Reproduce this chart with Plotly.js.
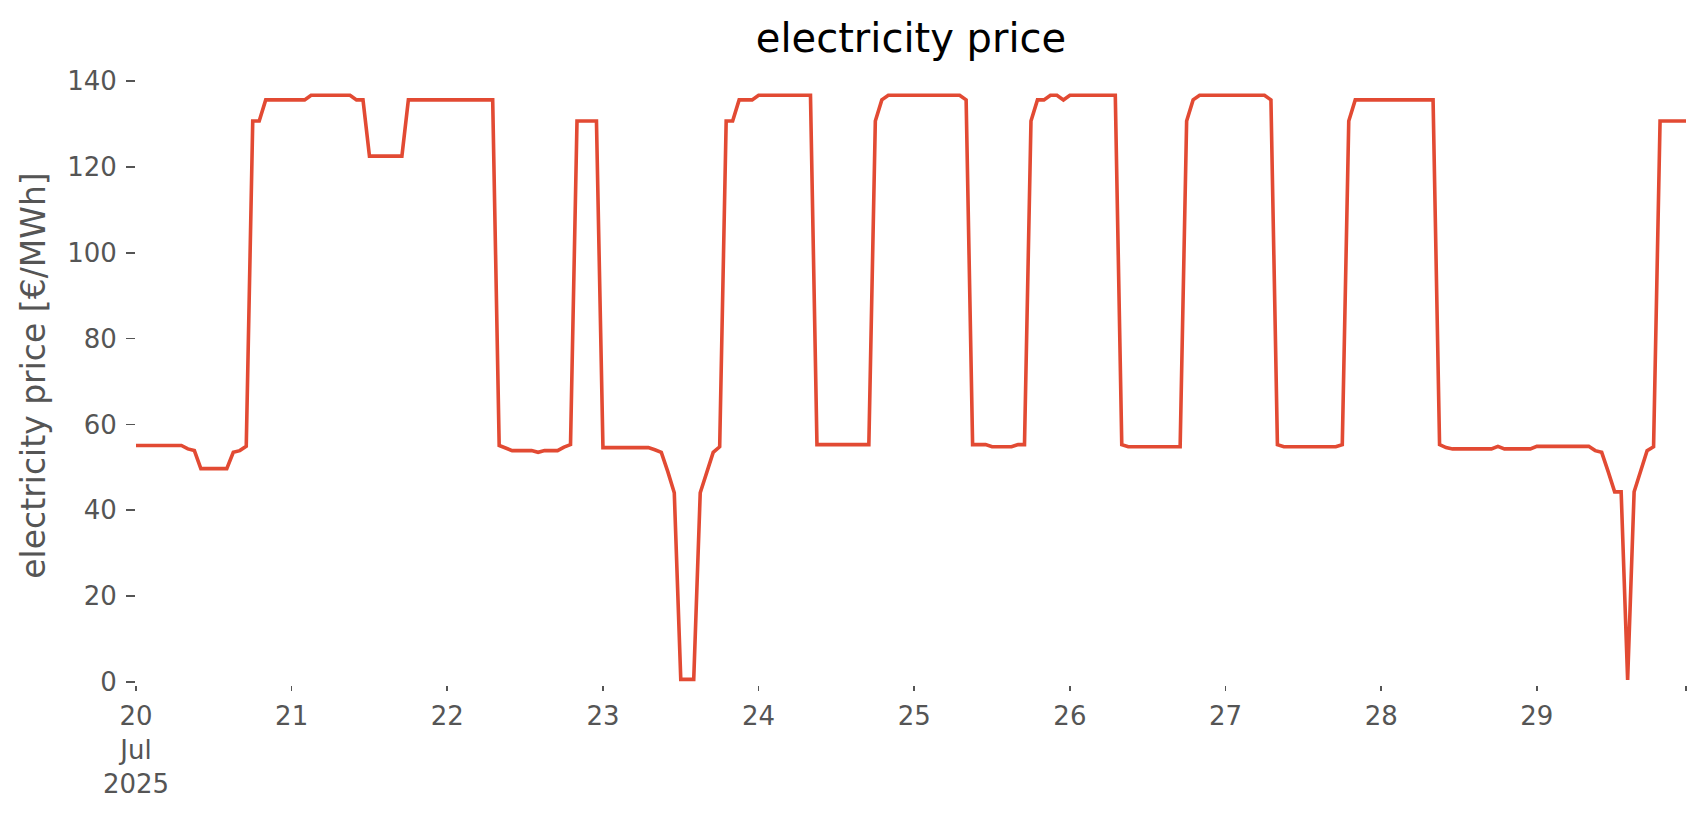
<!DOCTYPE html>
<html>
<head>
<meta charset="utf-8">
<script src="https://cdn.plot.ly/plotly-3.0.1.min.js"></script>
<style>html,body{margin:0;padding:0;background:#fff;}#chart{width:1706px;height:815px;}</style>
</head>
<body>
<div id="chart"></div>
<script>
// Hourly electricity price [€/MWh], one array per day (00:00 … 23:00)
const days = ["2025-07-20","2025-07-21","2025-07-22","2025-07-23","2025-07-24",
              "2025-07-25","2025-07-26","2025-07-27","2025-07-28","2025-07-29"];
const jul20 = [55.1,55.1,55.1,55.1,55.1,55.1,55.1,55.1,54.3,53.9,49.7,49.7,49.7,49.7,49.7,53.5,53.9,54.9,130.7,130.7,135.6,135.6,135.6,135.6];
const jul21 = [135.6,135.6,135.6,136.7,136.7,136.7,136.7,136.7,136.7,136.7,135.6,135.6,122.5,122.5,122.5,122.5,122.5,122.5,135.6,135.6,135.6,135.6,135.6,135.6];
const jul22 = [135.6,135.6,135.6,135.6,135.6,135.6,135.6,135.6,55.1,54.4,53.9,53.9,53.9,53.9,53.5,53.9,53.9,53.9,54.7,55.3,130.7,130.7,130.7,130.7];
const jul23 = [54.6,54.6,54.6,54.6,54.6,54.6,54.6,54.6,54.1,53.5,49.0,44.1,0.6,0.6,0.6,44.1,49.0,53.5,54.8,130.7,130.7,135.6,135.6,135.6];
const jul24 = [136.7,136.7,136.7,136.7,136.7,136.7,136.7,136.7,136.7,55.3,55.3,55.3,55.3,55.3,55.3,55.3,55.3,55.3,130.7,135.6,136.7,136.7,136.7,136.7];
const jul25 = [136.7,136.7,136.7,136.7,136.7,136.7,136.7,136.7,135.6,55.3,55.3,55.3,54.8,54.8,54.8,54.8,55.3,55.3,130.7,135.6,135.6,136.7,136.7,135.6];
const jul26 = [136.7,136.7,136.7,136.7,136.7,136.7,136.7,136.7,55.3,54.8,54.8,54.8,54.8,54.8,54.8,54.8,54.8,54.8,130.7,135.6,136.7,136.7,136.7,136.7];
const jul27 = [136.7,136.7,136.7,136.7,136.7,136.7,136.7,135.6,55.3,54.8,54.8,54.8,54.8,54.8,54.8,54.8,54.8,54.8,55.3,130.7,135.6,135.6,135.6,135.6];
const jul28 = [135.6,135.6,135.6,135.6,135.6,135.6,135.6,135.6,135.6,55.3,54.6,54.3,54.3,54.3,54.3,54.3,54.3,54.3,54.9,54.3,54.3,54.3,54.3,54.3];
const jul29 = [54.9,54.9,54.9,54.9,54.9,54.9,54.9,54.9,54.9,53.9,53.5,49.0,44.3,44.3,0.5,44.3,49.0,53.9,54.8,130.7,130.7,130.7,130.7,130.7];
const dailyPrices = [jul20,jul21,jul22,jul23,jul24,jul25,jul26,jul27,jul28,jul29];

const tickDays = ["20<br>Jul<br>2025","21","22","23","24","25","26","27","28","29"];

const x = [], y = [];
days.forEach((d, i) => {
  dailyPrices[i].forEach((v, h) => {
    x.push(d + " " + String(h).padStart(2, "0") + ":00");
    y.push(v);
  });
});
const xEnd = x[x.length - 1];

const font = "DejaVu Sans, Verdana, sans-serif";
const trace = {
  x: x, y: y, type: "scatter", mode: "lines",
  line: {color: "#E24A33", width: 3.6},
  hoverinfo: "skip", showlegend: false
};

const layout = {
  width: 1706, height: 815,
  paper_bgcolor: "#ffffff", plot_bgcolor: "#ffffff",
  margin: {l: 136, r: 20, t: 66, b: 130, pad: 0},
  font: {family: font, color: "#555555"},
  title: {
    text: "electricity price",
    font: {family: font, size: 40, color: "#000000"},
    x: 0.534, xref: "container", xanchor: "center",
    y: 1 - 38/815, yref: "container", yanchor: "middle"
  },
  xaxis: {
    type: "date",
    range: [x[0], xEnd],
    tickmode: "array",
    tickvals: days.concat([xEnd]),
    ticktext: tickDays.concat([""]),
    ticks: "outside", ticklen: 5, tickwidth: 1.6, tickcolor: "#555555",
    tickfont: {family: font, size: 26, color: "#555555"},
    showgrid: false, zeroline: false, showline: false,
    ticklabelstandoff: 3
  },
  yaxis: {
    range: [-0.7, 143.5],
    tickmode: "array",
    tickvals: [0, 20, 40, 60, 80, 100, 120, 140],
    ticks: "outside", ticklen: 9, tickwidth: 1.6, tickcolor: "#555555",
    tickfont: {family: font, size: 26, color: "#555555"},
    showgrid: false, zeroline: false, showline: false,
    ticklabelstandoff: 4,
    title: {
      text: "electricity price [€/MWh]",
      font: {family: font, size: 33, color: "#555555"},
      standoff: 11
    }
  }
};

Plotly.newPlot("chart", [trace], layout, {staticPlot: true, displayModeBar: false});
</script>
</body>
</html>
